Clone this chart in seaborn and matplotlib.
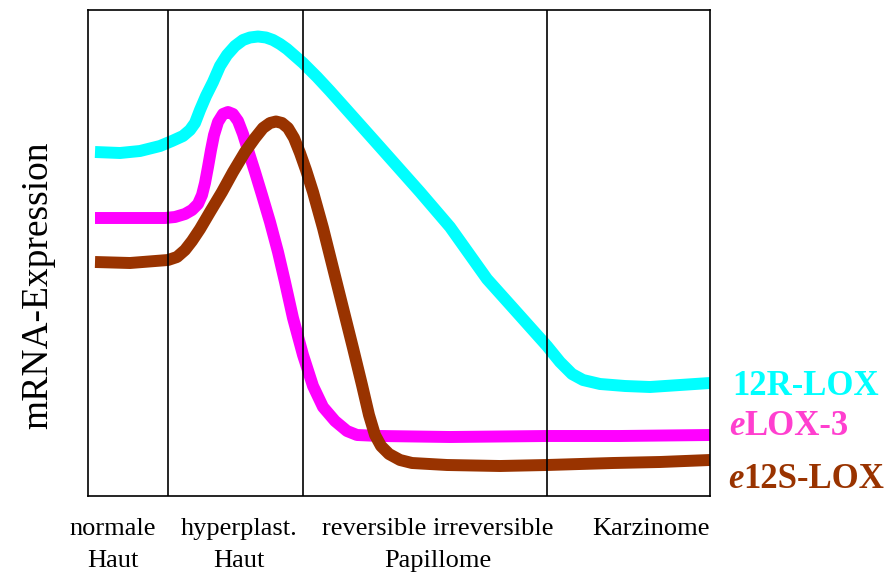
import matplotlib
matplotlib.use("Agg")
import matplotlib.pyplot as plt
import matplotlib.transforms as mtransforms
import numpy as np
import pandas as pd
import seaborn as sns

# Relative mRNA expression along the course of skin carcinogenesis
# (x: progression axis, y: expression level, arbitrary units)
genes = ["12R-LOX", "eLOX-3", "e12S-LOX"]

r12_x = [7, 32, 52, 72, 84, 95, 102, 107, 112, 118, 125, 132, 139, 147, 155, 162, 170,
         178, 185, 192, 199, 207, 215, 229, 242, 259, 292, 332, 362, 399, 425, 459, 472,
         484, 495, 512, 537, 562, 592, 622]
r12_y = [344, 343, 345, 350, 355, 360, 366, 373, 386, 400, 414, 430, 441, 450, 456, 458.5,
         459.5, 458.5, 456, 452, 447, 440, 433, 419, 405, 386, 349, 304, 269, 217, 188, 150,
         134, 122, 116, 112, 110, 109, 111, 113]

elox3_x = [7, 42, 77, 87, 97, 104, 110, 114, 117, 120, 123, 126, 130, 135, 140, 145, 150,
           155, 160, 167, 174, 182, 190, 197, 205, 215, 225, 235, 247, 259, 269, 292, 362,
           459, 532, 622]
elox3_y = [278, 278, 278, 279, 282, 286, 292, 301, 313, 329, 346, 361, 374, 382, 384, 382,
           375, 362, 346, 324, 301, 274, 244, 214, 178, 141, 110, 89, 75, 65, 61, 60, 59,
           60, 60, 61]

e12s_x = [7, 42, 80, 89, 97, 104, 112, 122, 134, 145, 157, 167, 175, 182, 188, 194, 200,
          206, 212, 218, 225, 235, 245, 255, 265, 274, 281, 287, 293, 301, 312, 324, 359,
          412, 459, 525, 572, 622]
e12s_y = [234, 233, 236, 239, 246, 255, 267, 284, 304, 324, 344, 358, 368, 373, 374.5, 373,
          368, 358, 343, 326, 304, 268, 228, 188, 148, 111, 81, 61, 50, 42, 36, 33, 31, 30,
          31, 33, 34, 36]

# Borders between the stages and stage labels
stage_bounds = [80, 215, 459]
stage_pos = [25, 151, 350, 563]
stage_line1 = ["normale", "hyperplast.", "reversible irreversible", "Karzinome"]
stage_line2 = ["Haut", "Haut", "Papillome", ""]

colors = {"12R-LOX": "#00FFFF", "eLOX-3": "#FF00FF", "e12S-LOX": "#993300"}
label_colors = {"12R-LOX": "#00FFFF", "eLOX-3": "#FF3FCF", "e12S-LOX": "#993300"}

df = pd.concat([
    pd.DataFrame({"x": r12_x, "level": r12_y, "gene": "12R-LOX"}),
    pd.DataFrame({"x": elox3_x, "level": elox3_y, "gene": "eLOX-3"}),
    pd.DataFrame({"x": e12s_x, "level": e12s_y, "gene": "e12S-LOX"}),
], ignore_index=True)

sns.set_style("white")
plt.rcParams["font.family"] = ["Liberation Serif", "DejaVu Serif"]

W, H = 893, 574
fig = plt.figure(figsize=(W / 100, H / 100), dpi=100)
ax = fig.add_axes([88 / W, 1 - 496 / H, (710 - 88) / W, (496 - 10) / H])

sns.lineplot(data=df, x="x", y="level", hue="gene", hue_order=genes,
             palette=colors, linewidth=8.6, estimator=None, sort=False,
             legend=False, ax=ax)
for ln in ax.lines:
    ln.set_solid_capstyle("butt")
    ln.set_solid_joinstyle("round")

for xb in stage_bounds:
    ax.axvline(xb, color="black", linewidth=1.2, zorder=5)

ax.set_xlim(0, 622)
ax.set_ylim(0, 486)
ax.set_xticks([])
ax.set_yticks([])
ax.set_xlabel("")
ax.set_ylabel("")
for sp in ax.spines.values():
    sp.set_visible(True)
    sp.set_color("black")
    sp.set_linewidth(1.2)
    sp.set_zorder(6)

# Stage labels under the axis (two lines each)
trans = mtransforms.blended_transform_factory(ax.transData, fig.transFigure)
for xp, l1, l2 in zip(stage_pos, stage_line1, stage_line2):
    ax.text(xp, 1 - 535 / H, l1, transform=trans, ha="center", va="baseline",
            fontsize=19, color="black")
    if l2:
        ax.text(xp, 1 - 567 / H, l2, transform=trans, ha="center", va="baseline",
                fontsize=19, color="black")

fig.text(38 / W, 1 - 285.5 / H, "mRNA-Expression", rotation=90,
         ha="center", va="center", fontsize=27, color="black")

# Gene names at the right-hand end of each curve
def gene_label(x_px, base_px, prefix, rest, color):
    if prefix:
        t = fig.text(x_px / W, 1 - base_px / H, prefix, ha="left", va="baseline",
                     fontsize=25, fontweight="bold", fontstyle="italic", color=color)
        fig.canvas.draw()
        bb = t.get_window_extent()
        fig.text(bb.x1 / W, 1 - base_px / H, rest, ha="left", va="baseline",
                 fontsize=25, fontweight="bold", color=color)
    else:
        fig.text(x_px / W, 1 - base_px / H, rest, ha="left", va="baseline",
                 fontsize=25, fontweight="bold", color=color)

gene_label(732, 395, "", "12R-LOX", label_colors["12R-LOX"])
gene_label(729, 435, "e", "LOX-3", label_colors["eLOX-3"])
gene_label(728, 488, "e", "12S-LOX", label_colors["e12S-LOX"])

fig.savefig("out.png", dpi=100, facecolor="white")
